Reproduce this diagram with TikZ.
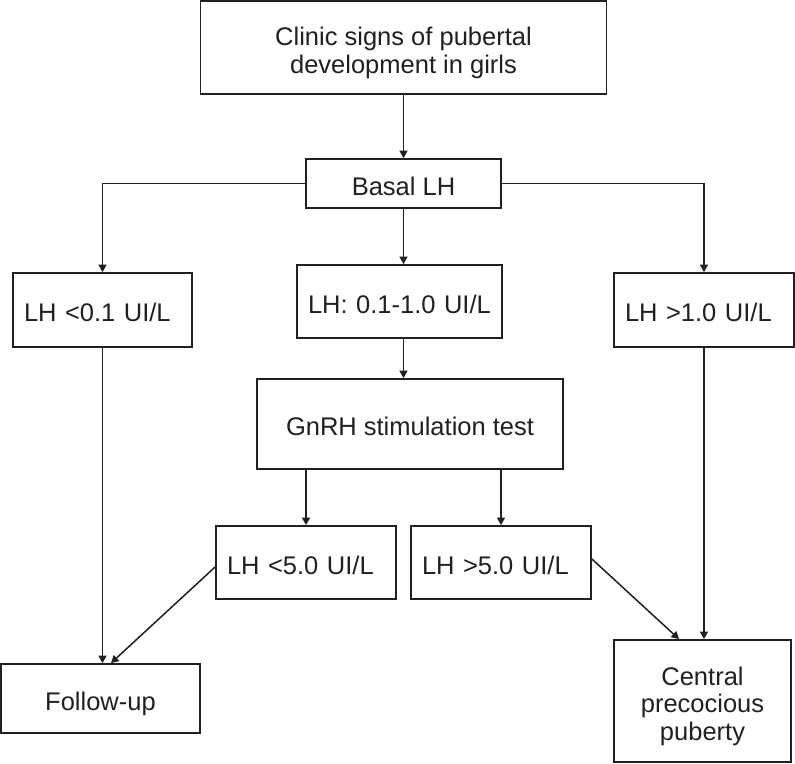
\documentclass[tikz,border=0pt]{standalone}
\usepackage{fontspec}
\setmainfont{Liberation Sans}
\usetikzlibrary{arrows.meta}
\definecolor{ink}{RGB}{35,31,32}
\newcommand\mltext[3]{\raisebox{#1}[0pt][0pt]{\fontsize{25.5pt}{#2}\selectfont\begin{tabular}[t]{@{}c@{}}#3\end{tabular}}}
\begin{document}
\begin{tikzpicture}[x=1pt,y=-1pt,
  every node/.style={font=\fontsize{25.5pt}{28pt}\selectfont, text=ink},
  box/.style={draw=ink, line width=1.8pt, rectangle, inner sep=0pt, text height=23.3pt, text depth=0pt},
  mbox/.style={draw=ink, line width=1.8pt, rectangle, inner sep=0pt},
  lbox/.style={draw=ink, line width=1.8pt, rectangle, inner xsep=11pt, inner ysep=0pt, align=left, text height=23.3pt, text depth=0pt},
  arr/.style={draw=ink, line width=1.5pt, -{Triangle[length=7.5pt,width=8pt]}}]
\useasboundingbox (0,0) rectangle (795,763);

\node[mbox, minimum width=406pt, minimum height=93pt] (top) at (403.5,47.5) {\mltext{2.5pt}{28.3pt}{Clinic signs of pubertal\\development in girls}};
\node[box, minimum width=195pt, minimum height=49pt] (basal) at (403.5,183.5) {Basal LH};
\node[lbox, text width=157pt, minimum height=74pt] (lt01) at (102.5,310) {LH <0.1 UI/L};
\node[lbox, text width=183pt, minimum height=73pt] (mid) at (399.5,301.5) {LH: 0.1-1.0 UI/L};
\node[lbox, text width=158pt, minimum height=74pt] (gt10) at (704,310) {LH >1.0 UI/L};
\node[box, minimum width=306pt, minimum height=90pt] (gnrh) at (410,424) {GnRH stimulation test};
\node[lbox, text width=158pt, minimum height=73pt] (lt5) at (306,562.5) {LH <5.0 UI/L};
\node[lbox, text width=158pt, minimum height=73pt] (gt5) at (501,562.5) {LH >5.0 UI/L};
\node[box, minimum width=199pt, minimum height=69pt] (follow) at (100.5,698.5) {Follow-up};
\node[mbox, minimum width=177pt, minimum height=122pt] (cpp) at (702.5,701) {\mltext{16pt}{27.5pt}{Central\\precocious\\puberty}};

\draw[arr] (top.south) -- (basal.north);
\draw[arr] (basal.west) -| (lt01.north);
\draw[arr] (basal.east) -| (gt10.north);
\draw[arr] (basal.south) -- (basal.south |- mid.north);
\draw[arr] (basal.south |- mid.south) -- (basal.south |- gnrh.north);
\draw[arr] (lt5.north |- gnrh.south) -- (lt5.north);
\draw[arr] (gt5.north |- gnrh.south) -- (gt5.north);
\draw[arr] (lt01.south) -- (lt01.south |- follow.north);
\draw[arr] (gt10.south) -- (gt10.south |- cpp.north);
\draw[arr] ([yshift=-4.5pt]lt5.west) -- ([xshift=10.5pt]follow.north);
\draw[arr] ([yshift=3.5pt]gt5.east) -- ([xshift=-23.5pt]cpp.north);
\end{tikzpicture}
\end{document}
